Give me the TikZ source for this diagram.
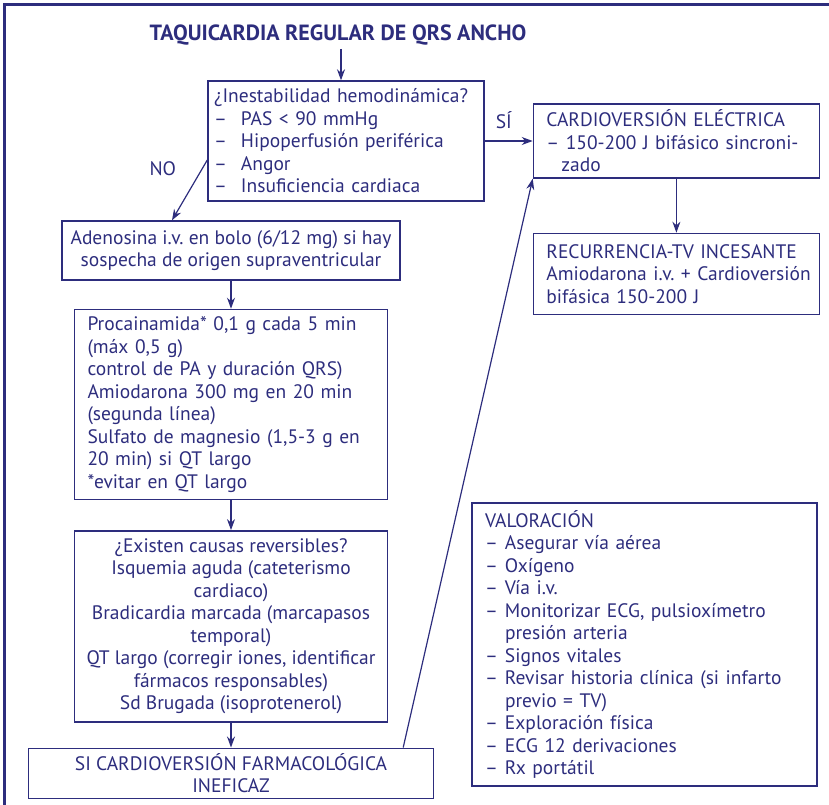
\documentclass[tikz,border=0pt]{standalone}
\usepackage{fontspec}
\setmainfont{PT Sans}
\usetikzlibrary{arrows.meta, positioning}
\definecolor{navy}{RGB}{45,45,125}
\newcommand{\fs}{\fontsize{19.5}{22.5}\selectfont}
\newcommand{\itm}[1]{\makebox[27pt][l]{--}#1}
\newcommand{\vitm}[1]{\makebox[20pt][l]{--}#1}
\tikzset{
  box/.style={rectangle, draw=navy, text=navy, line width=1.4pt,
    inner xsep=13pt, inner ysep=3pt, font=\fs},
  lbox/.style={box, align=left},
  cbox/.style={box, align=center, inner xsep=2pt},
  arrow/.style={-{Stealth[length=11pt,width=8pt]}, line width=1.2pt, color=navy}
}
\frenchspacing

\begin{document}
\begin{tikzpicture}[x=1pt, y=-1pt]
  \useasboundingbox (0,0) rectangle (829,804);
  \clip (0,0) rectangle (829,804);
  % frame
  \draw[navy, line width=2.5pt] (4.5,840) -- (4.5,4.5) -- (840,4.5);

  \node[text=navy, font=\fontsize{22}{24}\selectfont\bfseries] (title) at (338,35) {TAQUICARDIA REGULAR DE QRS ANCHO};

  \node[lbox, inner xsep=6pt, text width=264pt, minimum height=120pt] (ines) at (346,141)
    {¿Inestabilidad hemodinámica?\\ \itm{PAS < 90 mmHg}\\ \itm{Hipoperfusión periférica}\\
     \itm{Angor}\\ \itm{Insuficiencia cardiaca}};
  \node[lbox, text width=260pt, minimum height=74pt, right=48pt of ines] (cardio)
    {CARDIOVERSIÓN ELÉCTRICA\\ -- 150-200 J bifásico sincroni-\\ \hspace*{15pt}zado};
  \node[lbox, text width=260pt, minimum height=81pt, below=54pt of cardio] (recur)
    {RECURRENCIA-TV INCESANTE\\ \mbox{Amiodarona i.v. + Cardioversión}\\ bifásica 150-200 J};

  \node[cbox, minimum width=338pt, minimum height=59pt] (ade) at (231,250.5)
    {Adenosina i.v. en bolo (6/12 mg) si hay\\ sospecha de origen supraventricular};
  \node[lbox, text width=287pt, minimum height=190pt, below=28pt of ade] (proca)
    {Procainamida{*} 0,1 g cada 5 min\\ (máx 0,5 g)\\ control de PA y duración QRS)\\
     Amiodarona 300 mg en 20 min\\ (segunda línea)\\ Sulfato de magnesio (1,5-3 g en\\
     20 min) si QT largo\\ {*}evitar en QT largo};
  \node[cbox, minimum width=313pt, minimum height=191pt, below=30pt of proca] (rev)
    {¿Existen causas reversibles?\\ Isquemia aguda (cateterismo\\ cardiaco)\\
     Bradicardia marcada (marcapasos\\ temporal)\\ QT largo (corregir iones, identificar\\
     fármacos responsables)\\ Sd Brugada (isoprotenerol)};
  \node[cbox, minimum width=405pt, minimum height=50pt, below=25pt of rev] (inef)
    {SI CARDIOVERSIÓN FARMACOLÓGICA\\ INEFICAZ};

  \node[lbox, text width=319pt, minimum height=283pt] (valor) at (644.5,644.5)
    {VALORACIÓN\\ \vitm{Asegurar vía aérea}\\ \vitm{Oxígeno}\\ \vitm{Vía i.v.}\\
     \vitm{Monitorizar ECG, pulsioxímetro}\\ \hspace*{20pt}presión arteria\\ \vitm{Signos vitales}\\
     \vitm{Revisar historia clínica (si infarto}\\ \hspace*{20pt}previo = TV)\\
     \vitm{Exploración física}\\ \vitm{ECG 12 derivaciones}\\ \vitm{Rx portátil}};

  \draw[arrow] ([xshift=3pt]title.south) -- ([xshift=3pt]title.south |- ines.north);
  \draw[arrow] (ines) -- node[pos=0.4, above=8pt, text=navy, font=\fs] {SÍ} (cardio);
  \draw[arrow] ([yshift=-19pt]ines.west) -- node[pos=0.15, left=22pt, text=navy, font=\fs] {NO} ([xshift=-59pt]ade.north);
  \draw[arrow] (cardio) -- (recur);
  \draw[arrow] (ade) -- (proca);
  \draw[arrow] (proca) -- (rev);
  \draw[arrow] (rev) -- (inef);
  \draw[arrow] ([xshift=-31pt]inef.north east) -- (cardio.south west);
\end{tikzpicture}
\end{document}
